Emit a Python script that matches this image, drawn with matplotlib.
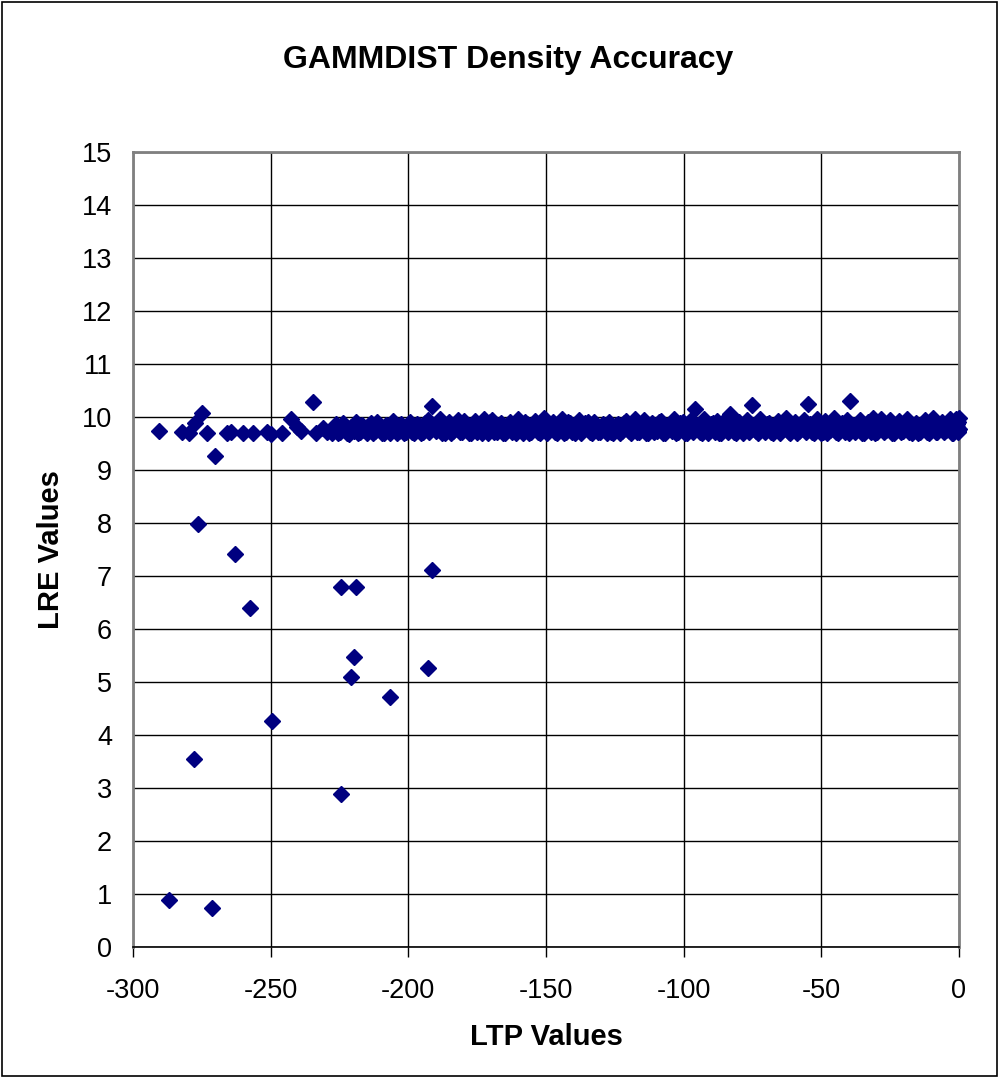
import numpy as np
import matplotlib
matplotlib.use('Agg')
import matplotlib.pyplot as plt
from matplotlib.patches import Rectangle

plt.rcParams['font.family'] = ['Liberation Sans', 'DejaVu Sans']
plt.rcParams['axes.unicode_minus'] = False

# =============================================================================
# DATA
# =============================================================================

# scattered low-accuracy points
out_x = [-276.3, -263.0, -257.5, -224.4, -218.9, -191.5, -219.8, -192.7, -220.9,
         -206.6, -249.5, -277.8, -224.4, -286.8, -271.3, -270.2]
out_y = [7.99, 7.42, 6.40, 6.79, 6.79, 7.11, 5.47, 5.27, 5.09,
         4.72, 4.26, 3.55, 2.88, 0.88, 0.73, 9.26]

# sparse left end of the band
left_x = [-290.7, -282.3, -279.5, -277.5, -275.1, -273.2, -266.0, -264.5, -260.0, -256.4,
          -251.4, -250.0, -246.0, -242.6, -240.5, -239.0, -234.7, -233.5, -231.0, -229.5]
left_y = [9.74, 9.71, 9.70, 9.88, 10.08, 9.70, 9.70, 9.72, 9.70, 9.70,
          9.71, 9.68, 9.70, 9.96, 9.82, 9.74, 10.29, 9.70, 9.80, 9.72]

# dense band, first pass
band_x = [-227.8, -226.1, -224.7, -223.0, -221.6, -219.9, -218.3, -216.8, -215.1, -213.6,
          -212.0, -210.4, -208.9, -207.2, -205.7, -204.1, -202.5, -200.9, -199.4, -197.8,
          -196.2, -194.7, -193.0, -191.5, -189.9, -188.4, -186.8, -185.2, -183.6, -182.1,
          -180.5, -179.0, -177.3, -175.8, -174.2, -172.6, -171.0, -169.5, -167.9, -166.3,
          -164.8, -163.2, -161.6, -160.0, -158.5, -156.9, -155.3, -153.8, -152.2, -150.6,
          -149.1, -147.5, -145.9, -144.3, -142.8, -141.2, -139.6, -138.1, -136.5, -134.9,
          -133.4, -131.8, -130.2, -128.7, -127.1, -125.5, -124.0, -122.4, -120.8, -119.2,
          -117.7, -116.1, -114.5, -113.0, -111.4, -109.8, -108.3, -106.7, -105.1, -103.5,
          -102.0, -100.4, -98.8, -97.3, -95.7, -94.1, -92.6, -91.0, -89.4, -87.8,
          -86.3, -84.7, -83.1, -81.6, -80.0, -78.4, -76.9, -75.3, -73.7, -72.1,
          -70.6, -69.0, -67.4, -65.9, -64.3, -62.7, -61.2, -59.6, -58.0, -56.4,
          -54.9, -53.3, -51.7, -50.2, -48.6, -47.0, -45.5, -43.9, -42.3, -40.7,
          -39.4, -37.6, -36.0, -34.5, -32.9, -31.3, -29.8, -28.2, -26.6, -25.0,
          -23.5, -21.9, -20.3, -18.8, -17.2, -15.6, -14.1, -12.5, -10.9, -9.3,
          -7.8, -6.2, -4.6, -3.1, -2.0, -1.2, -0.6, -0.3, -0.1, -0.8]
band_y = [9.70, 9.86, 9.72, 9.78, 9.68, 9.74, 9.70, 9.84, 9.70, 9.88,
          9.74, 9.82, 9.70, 9.78, 9.92, 9.70, 9.86, 9.72, 9.90, 9.70,
          9.84, 9.72, 9.94, 10.20, 9.74, 9.96, 9.70, 9.90, 9.74, 9.94,
          9.72, 9.84, 9.70, 9.92, 9.80, 9.96, 9.70, 9.94, 9.72, 9.88,
          9.70, 9.90, 9.76, 9.96, 9.70, 9.86, 9.72, 9.92, 9.70, 9.98,
          9.74, 9.90, 9.70, 9.96, 9.72, 9.88, 9.70, 9.94, 9.76, 9.90,
          9.70, 9.84, 9.72, 9.76, 9.90, 9.70, 9.86, 9.74, 9.92, 9.70,
          9.96, 9.72, 9.94, 9.70, 9.88, 9.74, 9.92, 9.70, 9.86, 9.96,
          9.72, 9.90, 9.70, 9.94, 10.16, 9.72, 9.96, 9.70, 9.88, 9.92,
          9.70, 9.96, 10.05, 9.72, 9.90, 9.70, 9.94, 10.22, 9.74, 9.96,
          9.72, 9.88, 9.70, 9.92, 9.76, 9.98, 9.70, 9.90, 9.74, 9.94,
          10.24, 9.72, 9.96, 9.70, 9.92, 9.76, 9.98, 9.70, 9.88, 9.94,
          10.31, 9.72, 9.94, 9.70, 9.90, 9.98, 9.72, 9.96, 9.76, 9.94,
          9.70, 9.92, 9.74, 9.96, 9.70, 9.88, 9.72, 9.94, 9.70, 9.98,
          9.72, 9.90, 9.76, 9.96, 9.70, 9.92, 9.82, 9.74, 9.98, 9.86]

# dense band, second pass (fills the gaps)
fill_x = [-227.0, -225.4, -223.8, -222.3, -220.7, -219.1, -217.5, -216.0, -214.4, -212.8,
          -211.2, -209.6, -208.1, -206.5, -204.9, -203.3, -201.7, -200.2, -198.6, -197.0,
          -195.4, -193.9, -192.3, -190.7, -189.1, -187.6, -186.0, -184.4, -182.8, -181.3,
          -179.7, -178.1, -176.6, -175.0, -173.4, -171.8, -170.3, -168.7, -167.1, -165.5,
          -164.0, -162.4, -160.8, -159.2, -157.7, -156.1, -154.5, -153.0, -151.4, -149.8,
          -148.3, -146.7, -145.1, -143.5, -142.0, -140.4, -138.8, -137.3, -135.7, -134.1,
          -132.6, -131.0, -129.4, -127.9, -126.3, -124.7, -123.2, -121.6, -120.0, -118.4,
          -116.9, -115.3, -113.7, -112.2, -110.6, -109.0, -107.5, -105.9, -104.3, -102.7,
          -101.2, -99.6, -98.0, -96.5, -94.9, -93.3, -91.8, -90.2, -88.6, -87.0,
          -85.5, -83.9, -82.3, -80.8, -79.2, -77.6, -76.1, -74.5, -72.9, -71.3,
          -69.8, -68.2, -66.6, -65.1, -63.5, -61.9, -60.4, -58.8, -57.2, -55.6,
          -54.1, -52.5, -50.9, -49.4, -47.8, -46.2, -44.7, -43.1, -41.5, -39.9,
          -38.5, -36.8, -35.2, -33.7, -32.1, -30.5, -29.0, -27.4, -25.8, -24.2,
          -22.7, -21.1, -19.5, -18.0, -16.4, -14.8, -13.3, -11.7, -10.1, -8.5,
          -7.0, -5.4, -3.8, -2.5, -1.6, -0.9, -0.2, -0.5, -1.8, -0.05]
fill_y = [9.80, 9.70, 9.88, 9.70, 9.82, 9.90, 9.72, 9.76, 9.84, 9.70,
          9.90, 9.70, 9.84, 9.70, 9.80, 9.74, 9.70, 9.82, 9.72, 9.86,
          9.70, 9.88, 9.72, 9.84, 9.90, 9.70, 9.80, 9.70, 9.86, 9.72,
          9.92, 9.70, 9.86, 9.72, 9.70, 9.84, 9.90, 9.72, 9.82, 9.70,
          9.84, 9.72, 9.70, 9.82, 9.90, 9.70, 9.84, 9.72, 9.86, 9.70,
          9.86, 9.72, 9.84, 9.70, 9.90, 9.72, 9.84, 9.70, 9.88, 9.72,
          9.90, 9.72, 9.86, 9.70, 9.72, 9.84, 9.70, 9.88, 9.74, 9.86,
          9.72, 9.86, 9.70, 9.84, 9.72, 9.90, 9.70, 9.82, 9.74, 9.70,
          9.88, 9.70, 9.86, 9.72, 9.84, 9.70, 9.82, 9.86, 9.72, 9.70,
          9.86, 9.72, 9.84, 9.70, 9.82, 9.88, 9.72, 9.84, 9.70, 9.86,
          9.86, 9.72, 9.84, 9.70, 9.88, 9.72, 9.84, 9.70, 9.86, 9.72,
          9.86, 9.70, 9.84, 9.72, 9.70, 9.88, 9.72, 9.84, 9.72, 9.70,
          9.84, 9.88, 9.70, 9.84, 9.72, 9.70, 9.88, 9.72, 9.86, 9.70,
          9.84, 9.72, 9.88, 9.72, 9.84, 9.70, 9.86, 9.72, 9.84, 9.72,
          9.86, 9.72, 9.88, 9.70, 9.84, 9.96, 9.72, 9.90, 9.80, 9.78]

x = np.array(left_x + band_x + fill_x + out_x)
y = np.array(left_y + band_y + fill_y + out_y)

# =============================================================================
# PLOT
# =============================================================================

title = 'GAMMDIST Density Accuracy'
xlabel = 'LTP Values'
ylabel = 'LRE Values'
color = '#000080'

fig = plt.figure(figsize=(9.99, 10.78), dpi=100)
ax = fig.add_axes([0.1331, 0.1215, 0.8268, 0.7375])

ax.plot(x, y, linestyle='none', marker='D', ms=8.4, color=color,
        markeredgecolor=color, zorder=3, clip_on=False)

ax.set_xlim(-300, 0)
ax.set_ylim(0, 15)
ax.set_xticks(np.arange(-300, 1, 50))
ax.set_yticks(np.arange(0, 16, 1))
ax.grid(True, color='black', linewidth=1)
ax.set_axisbelow(True)

for s in ['left', 'top', 'right']:
    ax.spines[s].set_color('#808080')
    ax.spines[s].set_linewidth(2)
ax.spines['bottom'].set_color('black')
ax.spines['bottom'].set_linewidth(1.2)

ax.tick_params(axis='x', labelsize=19.5, direction='out', length=7, width=1, pad=15)
ax.tick_params(axis='y', labelsize=19.5, length=0, pad=15)

ax.set_xlabel(xlabel, fontsize=21, fontweight='bold', labelpad=14)
ax.set_ylabel(ylabel, fontsize=21, fontweight='bold', labelpad=12)
fig.text(0.509, 0.944, title, fontsize=23, fontweight='bold', ha='center', va='center')

# chart border
fig.patches.append(Rectangle((0.002, 0.002), 0.996, 0.996, transform=fig.transFigure,
                             fill=False, edgecolor='black', linewidth=1.2))

plt.savefig('out.png', dpi=100)
